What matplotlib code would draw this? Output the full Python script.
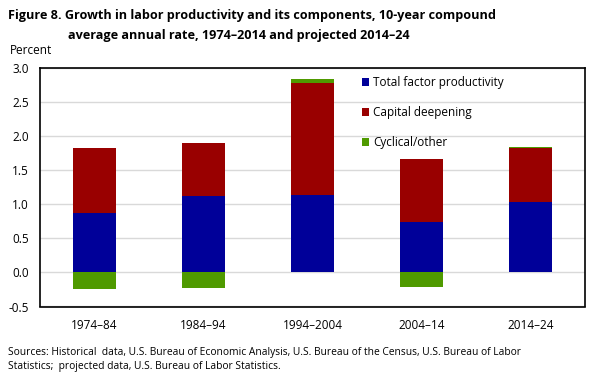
import matplotlib
matplotlib.use("Agg")
import matplotlib.pyplot as plt
from matplotlib.patches import Patch
import numpy as np

categories = ["1974\u201384", "1984\u201394", "1994\u20132004", "2004\u201314", "2014\u201324"]
tfp = [0.87, 1.125, 1.135, 0.74, 1.04]
capital = [0.955, 0.775, 1.645, 0.92, 0.79]
cyclical = [-0.245, -0.23, 0.06, -0.215, 0.015]
series_names = ["Total factor productivity", "Capital deepening", "Cyclical/other"]
colors = ["#000099", "#990000", "#4f9a00"]

plt.rcParams['font.family'] = ['Open Sans', 'DejaVu Sans']

fig = plt.figure(figsize=(5.99, 3.83), dpi=100)
ax = fig.add_axes([40/599, 1-306.5/383, 545/599, (306.5-68.3)/383])

x = np.arange(len(categories))
w = 0.4
tfp_a = np.array(tfp); cap_a = np.array(capital); cyc_a = np.array(cyclical)
ax.bar(x, tfp_a, w, color=colors[0], zorder=2)
ax.bar(x, cap_a, w, bottom=tfp_a, color=colors[1], zorder=2)
cyc_bottom = np.where(cyc_a >= 0, tfp_a + cap_a, 0)
ax.bar(x, cyc_a, w, bottom=cyc_bottom, color=colors[2], zorder=2)

ax.set_xlim(-0.5, len(categories) - 0.5)
ax.set_ylim(-0.5, 3.0)
ax.set_yticks(np.arange(-0.5, 3.01, 0.5))
ax.set_yticklabels([f"{v:.1f}" for v in np.arange(-0.5, 3.01, 0.5)], fontsize=8.5)
ax.set_xticks(x)
ax.set_xticklabels(categories, fontsize=8.5)
ax.tick_params(axis='both', length=0, pad=8)
ax.tick_params(axis='x', pad=9)
ax.yaxis.grid(True, color="#d9d9d9", linewidth=1, zorder=0)
ax.set_axisbelow(True)
for s in ax.spines.values():
    s.set_color("black")
    s.set_linewidth(1.2)

handles = [Patch(facecolor=c, edgecolor='none') for c in colors]
ax.legend(handles, series_names, loc='upper left', bbox_to_anchor=(0.577, 1.0),
          frameon=False, fontsize=8.5, handlelength=0.6, handleheight=0.6,
          handletextpad=0.3, labelspacing=1.45, borderaxespad=0.25)

fig.text(8/599, 1-15/383, "Figure 8. Growth in labor productivity and its components, 10-year compound",
         fontsize=9.1, fontweight='bold', va='center', ha='left')
fig.text(68/599, 1-35/383, "average annual rate, 1974\u20132014 and projected 2014\u201324",
         fontsize=9.1, fontweight='bold', va='center', ha='left')
fig.text(10/599, 1-51/383, "Percent", fontsize=8.5, va='center', ha='left')
fig.text(8/599, 1-352/383, "Sources: Historical  data, U.S. Bureau of Economic Analysis, U.S. Bureau of the Census, U.S. Bureau of Labor",
         fontsize=7.4, va='center', ha='left')
fig.text(8/599, 1-367/383, "Statistics;  projected data, U.S. Bureau of Labor Statistics.",
         fontsize=7.4, va='center', ha='left')

fig.savefig("out.png", dpi=100)
